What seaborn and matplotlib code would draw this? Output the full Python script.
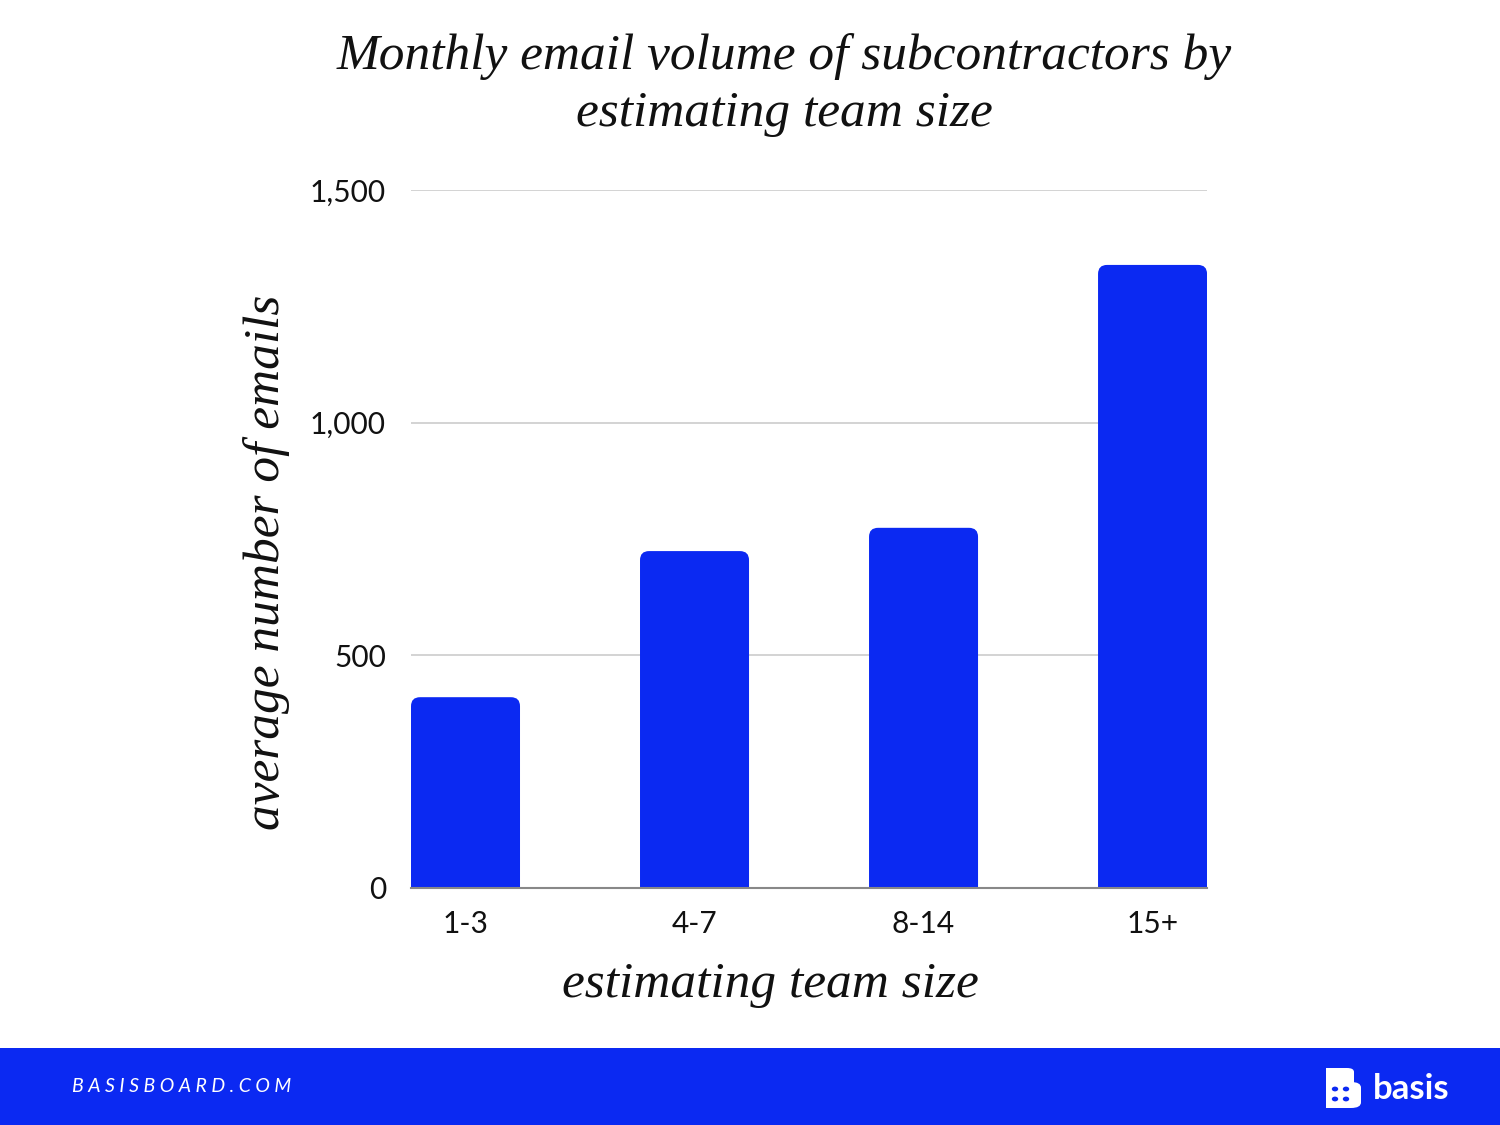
import numpy as np
import pandas as pd
import matplotlib
matplotlib.use("Agg")
import matplotlib.pyplot as plt
import seaborn as sns
from matplotlib.patches import FancyBboxPatch, Rectangle, Circle

# ===============================
# Data
# ===============================
team_sizes = ["1-3", "4-7", "8-14", "15+"]
avg_emails = [410, 724, 774, 1339]
y_ticks = [0, 500, 1000, 1500]
y_tick_labels = ["0", "500", "1,000", "1,500"]

blue = "#0b29f2"
serif = ["Liberation Serif", "DejaVu Serif"]
sans = ["Lato", "DejaVu Sans"]

df = pd.DataFrame({"team": team_sizes, "emails": avg_emails})

# ===============================
# Figure
# ===============================
sns.set_theme(style="white")
plt.rcParams["font.family"] = sans

fig = plt.figure(figsize=(15, 11.25), dpi=100)
ax = fig.add_axes([0.274, 0.2107, 0.5307, 0.6204])

bar_w = 0.476
sns.barplot(data=df, x="team", y="emails", color=blue, width=bar_w,
            saturation=1, ax=ax, zorder=3)

ax.set_xlim(-bar_w / 2, len(team_sizes) - 1 + bar_w / 2)
ax.set_ylim(0, 1500)
fig.canvas.draw()

# rounded tops: replace the bars with rounded patches (bottom hidden under the axis)
px_x = ax.transData.transform((1, 0))[0] - ax.transData.transform((0, 0))[0]
px_y = ax.transData.transform((0, 1))[1] - ax.transData.transform((0, 0))[1]
radius_px = 9
for p in list(ax.patches):
    x0, w, h = p.get_x(), p.get_width(), p.get_height()
    p.remove()
    rp = FancyBboxPatch((x0, -60), w, h + 60,
                        boxstyle=f"round,pad=0,rounding_size={radius_px / px_x}",
                        mutation_aspect=px_x / px_y,
                        facecolor=blue, edgecolor="none", zorder=3)
    ax.add_patch(rp)

ax.set_yticks(y_ticks)
ax.set_yticklabels(y_tick_labels)
ax.yaxis.grid(True, color="#cccccc", linewidth=1.2, zorder=0)
ax.xaxis.grid(False)
for s in ["top", "right", "left"]:
    ax.spines[s].set_visible(False)
ax.spines["bottom"].set_color("#888888")
ax.spines["bottom"].set_linewidth(1.5)
ax.spines["bottom"].set_zorder(4)
ax.tick_params(axis="y", length=0, pad=18, labelsize=21.5, labelcolor="#111111")
ax.tick_params(axis="x", length=0, pad=16, labelsize=21.5, labelcolor="#111111")

ax.set_xlabel("estimating team size", fontsize=37, style="italic",
              family=serif, color="#111111")
ax.set_ylabel("average number of emails", fontsize=37, style="italic",
              family=serif, color="#111111")
ax.xaxis.set_label_coords(0.452, -0.139)
ax.yaxis.set_label_coords(-0.182, 0.467)
ax.xaxis.label.set_va("center")
ax.yaxis.label.set_va("center")

fig.text(0.5227, 0.9244, "Monthly email volume of subcontractors by\nestimating team size",
         ha="center", va="center", fontsize=37, style="italic", family=serif,
         color="#111111", linespacing=1.3)

# ===============================
# Footer band
# ===============================
fig.add_artist(Rectangle((0, 0), 1, 77 / 1125, transform=fig.transFigure,
                         facecolor=blue, edgecolor="none"))
fig.text(72 / 1500, 1 - 1087 / 1125, "\u2005".join("BASISBOARD.COM"),
         ha="left", va="center", fontsize=14, color="white",
         family=["Lato", "DejaVu Sans"], style="italic")
fig.text(1373 / 1500, 1 - 1089 / 1125, "basis", ha="left", va="center",
         fontsize=25, fontweight="bold", color="white", family=sans)

# logo mark (a "B" with four dots)
fx, fy = 1 / 1500, 1 / 1125
def fbox(x, y, w, h, r):
    fig.add_artist(FancyBboxPatch((x * fx, 1 - (y + h) * fy), w * fx, h * fy,
                                  boxstyle=f"round,pad=0,rounding_size={r * fx}",
                                  mutation_aspect=fx / fy * (1125 / 1500) * (1500 / 1125),
                                  transform=fig.transFigure, facecolor="white",
                                  edgecolor="none"))

fig.add_artist(Rectangle((1326 * fx, 1 - 1108 * fy), 14 * fx, 40 * fy,
                         transform=fig.transFigure, facecolor="white", edgecolor="none"))
fbox(1326, 1068, 28, 22, 7)
fbox(1326, 1082, 35, 26, 10)
for cx, cy in [(1335, 1089), (1346, 1089), (1335, 1099), (1346, 1099)]:
    fig.add_artist(Circle((cx * fx, 1 - cy * fy), 3.2 * fx, transform=fig.transFigure,
                          facecolor=blue, edgecolor="none"))

fig.savefig("out.png", dpi=100)
